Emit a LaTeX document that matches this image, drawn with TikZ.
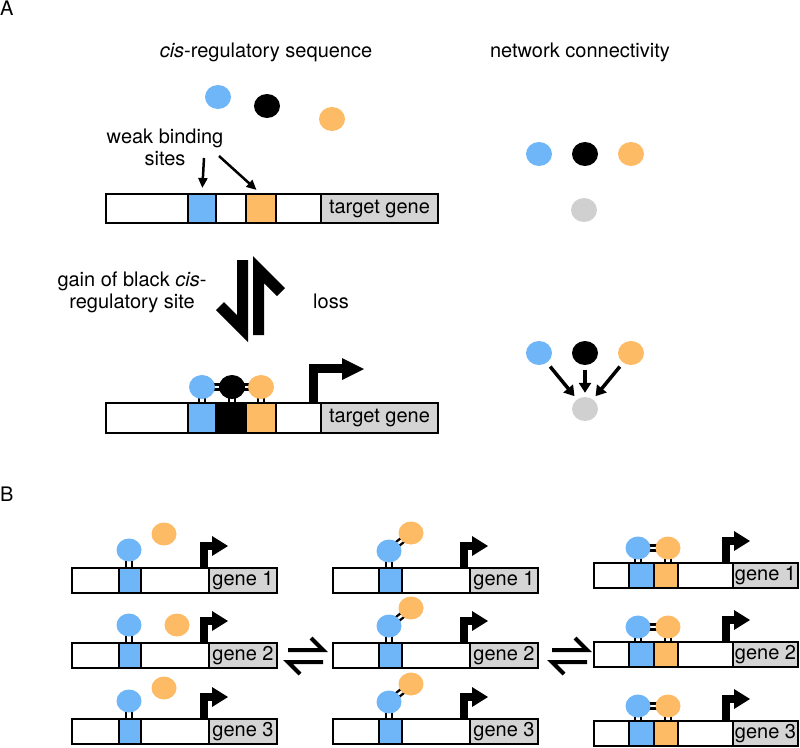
\documentclass[tikz,border=0pt]{standalone}
\usepackage{fontspec}
\setmainfont{TeX Gyre Heros}
\usetikzlibrary{shapes.geometric,arrows.meta,backgrounds,calc}
\definecolor{tfblue}{RGB}{110,182,248}
\definecolor{tforange}{RGB}{253,187,102}
\definecolor{genegray}{RGB}{212,212,212}
\definecolor{netgray}{RGB}{208,208,208}

\tikzset{
  dna/.style={draw, fill=white, line width=2.5pt},
  site/.style={draw, line width=2.5pt, inner sep=0pt, outer sep=0pt, minimum height=25},
  gene/.style={site, fill=genegray},
  tf/.style={ellipse, inner sep=0pt, minimum width=26, minimum height=24},
  tfsmall/.style={ellipse, inner sep=0pt, minimum width=25, minimum height=23},
  bond/.style={line width=2.2pt},
  pointer/.style={line width=2.5pt, -{Triangle[length=10pt,width=9pt]}, shorten >=6pt},
  netarrow/.style={line width=3.5pt, -{Triangle[length=10pt,width=12pt]}, shorten <=5pt, shorten >=4pt},
}

% promoter flag: stem x, top of bar
\newcommand{\promoter}[2]{
  \draw[line width=8pt] (#1,#2) -- (#1,#2-22) -- (#1+10,#2-22);
  \fill (#1+8,#2-32) -- (#1+24,#2-22) -- (#1+8,#2-12) -- cycle;
}
% reaction arrows: left x, upper line y
\newcommand{\equilib}[2]{
  \draw[line width=4pt] (#1,#2) -- (#1+35,#2) -- (#1+23,#2-12);
  \draw[line width=4pt] (#1+35,#2+12) -- (#1,#2+12) -- (#1+12,#2+24);
}

\begin{document}
\begin{tikzpicture}[x=1pt, y=-1pt, font=\fontsize{20}{22}\selectfont]
	\useasboundingbox (0,0) rectangle (800,747);
	
	%panel labels
	\node[anchor=north west, inner sep=0pt] (labA) at (0,1) {A};
	\node[anchor=north west, inner sep=0pt] (labB) at (0,487) {B};
	
	%titles
	\node[anchor=base] (seqtitle) at (266,57) {\textit{cis}-regulatory sequence};
	\node[anchor=base] (nettitle) at (580,57) {network connectivity};
	
	%free factors
	\node[tf, fill=tfblue] (fb) at (218,97) {};
	\node[tf, fill=black] (fk) at (267,106) {};
	\node[tf, fill=tforange] (fo) at (332,119) {};
	
	%sequence without black site
	\draw[dna] (106,194) rectangle (438,223);
	\node[site, minimum height=29, minimum width=28, fill=tfblue, anchor=north west] (u1) at (188,194) {};
	\node[site, minimum height=29, minimum width=30, fill=tforange, anchor=north west] (u2) at (246,194) {};
	\node[gene, minimum height=29, minimum width=117, anchor=north west] (ug) at (321,194) {target gene};
	
	\node[align=center, inner sep=0pt] (weak) at (165,147) {weak binding\\sites};
	\coordinate (w1) at (204,158);
	\coordinate (w2) at (219,156);
	\draw[pointer] (w1) -- (u1.north);
	\draw[pointer] (w2) -- (u2.north);
	
	%gain / loss
	\fill (237,260) -- (248,260) -- (248,342) -- (216,310) -- (224,302) -- (237,315) -- cycle;
	\fill (264,335) -- (253,335) -- (253,256) -- (285,288) -- (277,296) -- (264,283) -- cycle;
	\node[align=center, inner sep=0pt] (gain) at (132,292) {gain of black \textit{cis}-\\regulatory site};
	\node[anchor=base] (loss) at (331,308) {loss};
	
	%sequence with black site
	\draw[dna] (106,403) rectangle (438,433);
	\node[site, minimum height=30, minimum width=28, fill=tfblue, anchor=north west] (v1) at (188,403) {};
	\node[site, minimum height=30, minimum width=30, fill=black, anchor=north west] (v2) at (216,403) {};
	\node[site, minimum height=30, minimum width=30, fill=tforange, anchor=north west] (v3) at (246,403) {};
	\node[gene, minimum height=30, minimum width=117, anchor=north west] (vg) at (321,403) {target gene};
	\node[tf, fill=tfblue] (cb) at (202,387) {};
	\node[tf, fill=black] (ck) at (232,387) {};
	\node[tf, fill=tforange] (co) at (261,387) {};
	\draw[line width=9pt] (313,403) -- (313,368) -- (345,368);
	\fill (342,358) -- (364,369) -- (342,380) -- cycle;
	
	%network
	\node[tf, fill=tfblue] (n1b) at (539,154) {};
	\node[tf, fill=black] (n1k) at (585,154) {};
	\node[tf, fill=tforange] (n1o) at (631,154) {};
	\node[tf, fill=netgray] (n1g) at (584,210) {};
	
	\node[tf, fill=tfblue] (n2b) at (539,353) {};
	\node[tf, fill=black] (n2k) at (585,353) {};
	\node[tf, fill=tforange] (n2o) at (631,353) {};
	\node[tf, fill=netgray] (n2g) at (585,409) {};
	\foreach \src in {n2b, n2k, n2o}{
		\draw[netarrow] (\src) -- (n2g);
	}
	
	%B, left column
	\foreach \y/\n/\ox/\oy in {568/1/164/534, 643/2/177/625, 719/3/164/688}{
		\draw[dna] (72,\y) rectangle (277,\y+25);
		\node[site, minimum width=22, fill=tfblue, anchor=north west] (ls\n) at (119,\y) {};
		\node[gene, minimum width=68, anchor=north west] (lg\n) at (209,\y) {gene \n};
		\node[tfsmall, fill=tfblue] (lb\n) at (129,\y-18) {};
		\node[tfsmall, fill=tforange] (lo\n) at (\ox,\oy) {};
		\promoter{204}{\y}
	}
	
	%B, middle column
	\foreach \y/\n in {568/1, 643/2, 719/3}{
		\draw[dna] (333,\y) rectangle (538,\y+25);
		\node[site, minimum width=23, fill=tfblue, anchor=north west] (ms\n) at (379,\y) {};
		\node[gene, minimum width=68, anchor=north west] (mg\n) at (470,\y) {gene \n};
		\node[tfsmall, fill=tfblue] (mb\n) at (389,\y-17) {};
		\node[tfsmall, fill=tforange] (mo\n) at (411,\y-35) {};
		\promoter{464}{\y}
	}
	
	%B, right column
	\foreach \y/\n in {563/1, 642/2, 721/3}{
		\draw[dna] (594,\y) rectangle (798,\y+25);
		\node[site, minimum width=25, fill=tfblue, anchor=north west] (rs\n) at (629,\y) {};
		\node[site, minimum width=24, fill=tforange, anchor=north west] (rt\n) at (654,\y) {};
		\node[gene, minimum width=65, anchor=north west] (rg\n) at (733,\y) {gene \n};
		\node[tfsmall, fill=tfblue] (rb\n) at (638,\y-15) {};
		\node[tfsmall, fill=tforange] (ro\n) at (668,\y-15) {};
		\promoter{726}{\y}
	}
	
	\equilib{288}{650}
	\equilib{552}{650}
	
	%contacts, behind the factors
	\begin{scope}[on background layer]
		\foreach \fa/\st in {cb/v1, ck/v2, co/v3, lb1/ls1, lb2/ls2, lb3/ls3, mb1/ms1, mb2/ms2, mb3/ms3, rb1/rs1, rb2/rs2, rb3/rs3, ro1/rt1, ro2/rt2, ro3/rt3}{
			\draw[bond] ([xshift=-3]\fa.center) -- ([xshift=-3]\fa.center |- \st.north);
			\draw[bond] ([xshift=3]\fa.center) -- ([xshift=3]\fa.center |- \st.north);
		}
		\foreach \fa/\fb in {cb/ck, ck/co, rb1/ro1, rb2/ro2, rb3/ro3}{
			\draw[bond] ([yshift=2.5]\fa.center) -- ([yshift=2.5]\fb.center);
			\draw[bond] ([yshift=-2.5]\fa.center) -- ([yshift=-2.5]\fb.center);
		}
		\foreach \n in {1,2,3}{
			\draw[bond] ($(mb\n)!2.5pt!90:(mo\n)$) -- ($(mo\n)!2.5pt!-90:(mb\n)$);
			\draw[bond] ($(mb\n)!2.5pt!-90:(mo\n)$) -- ($(mo\n)!2.5pt!90:(mb\n)$);
		}
	\end{scope}
\end{tikzpicture}
\end{document}
